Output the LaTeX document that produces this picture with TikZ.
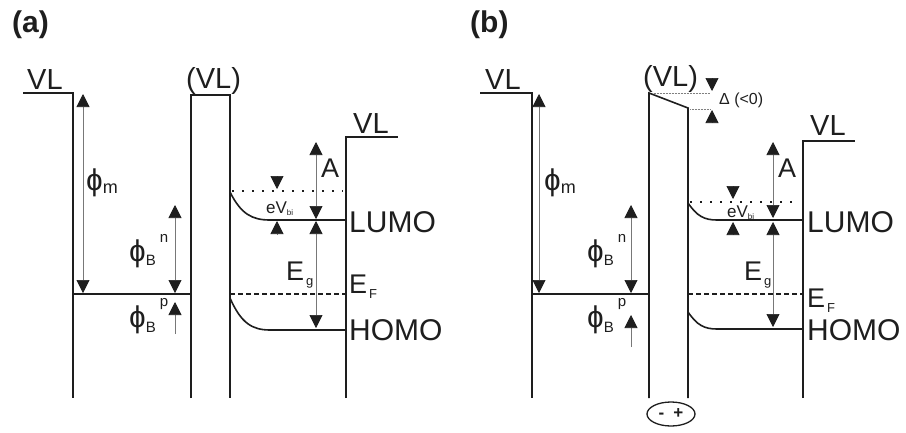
\documentclass[tikz,border=0pt]{standalone}
\usepackage{fontspec}
\setmainfont{Liberation Sans}
\usetikzlibrary{arrows.meta}
\definecolor{myline}{RGB}{30,30,30}
\definecolor{mygray}{RGB}{120,120,120}
\newcommand{\fs}[1]{\fontsize{#1}{#1}\selectfont}
\newcommand{\phis}{{\fs{30}\ooalign{o\cr\hidewidth|\hidewidth\cr}}}
\begin{document}
\begin{tikzpicture}[x=1pt,y=-1pt,>={Triangle[length=13pt,width=13pt,color=myline]},every node/.style={inner sep=0,anchor=base west,text=myline}]
\tikzstyle{band}=[line width=1.6pt,myline,line join=miter]
\tikzstyle{gap}=[mygray,line width=0.7pt]
\tikzstyle{fermi}=[line width=1.5pt,myline,dash pattern=on 4.5pt off 3.5pt]
\tikzstyle{vac}=[line width=1.6pt,myline,dash pattern=on 1.8pt off 8.2pt]
\useasboundingbox (0,0) rectangle (906,432);
% (a)
\node (lbla) at (12,32) {\fs{30}\bfseries (a)};
\draw[band] (23,93) -- (73,93) -- (73,398);
\draw[band] (73,294) -- (191,294);
\draw[band] (191,398) -- (191,95) -- (230,95) -- (230,398);
\draw[band] (346,398) -- (346,137) -- (398,137);
\draw[band] (230,192) .. controls (241,214) and (252,220) .. (270,220) -- (346,220);
\draw[band] (230,298) .. controls (241,323) and (252,330) .. (270,330) -- (346,330);
\draw[vac] (232,191) -- (343,191);
\draw[fermi] (230,294) -- (346,294);
\draw[gap,<->] (83,94) -- (83,293);
\draw[gap,<->] (175,205) -- (175,293);
\draw[gap,->] (175,334) -- (175,302);
\draw[gap,<->] (316,142) -- (316,219);
\draw[gap,<->] (316,221) -- (316,328);
\draw[gap,->] (277,176) -- (277,189);
\draw[gap,->] (277,234) -- (277,221);
\node (vla) at (27,89) {\fs{29}VL};
\node (vlia) at (186,88) {\fs{29}(VL)};
\node (vlra) at (353,133) {\fs{29}VL};
\node (phima) at (86,190) {\phis\raisebox{-3pt}{\fs{18}m}};
\node (phina) at (129,261) {\phis\raisebox{-4pt}{\fs{15}B}\hspace{4pt}\raisebox{19pt}{\fs{15}n}};
\node (phipa) at (129,327) {\phis\raisebox{-5pt}{\fs{15}B}\hspace{4pt}\raisebox{21pt}{\fs{15}p}};
\node (ea) at (321,177) {\fs{27}A};
\node (ega) at (286,280) {\fs{27}E\hspace{2pt}\raisebox{-5pt}{\fs{13}g}};
\node (efa) at (349,293) {\fs{27}E\hspace{2pt}\raisebox{-5pt}{\fs{13}F}};
\node (lumoa) at (349,232) {\fs{30}LUMO};
\node (homoa) at (349,340) {\fs{30}HOMO};
\node (evba) at (266,213) {\fs{17}eV\raisebox{-2pt}{\fs{8}bi}};
% (b)
\node (lblb) at (470,32) {\fs{30}\bfseries (b)};
\draw[band] (480,93) -- (532,93) -- (532,398);
\draw[band] (532,294) -- (649,294);
\draw[band] (649,398) -- (649,93) -- (688,108) -- (688,398);
\draw[band] (803,398) -- (803,141) -- (855,141);
\draw[band] (688,203) .. controls (697,216) and (704,220) .. (717,220) -- (803,220);
\draw[band] (688,312) .. controls (697,325) and (704,329) .. (717,329) -- (803,329);
\draw[vac] (690,202) -- (798,202);
\draw[fermi] (688,294) -- (803,294);
\draw[gray,line width=0.5pt,densely dotted] (652,93) -- (710,93);
\draw[gray,line width=0.5pt,densely dotted] (690,109) -- (710,109);
\draw[gap,<->] (539,94) -- (539,293);
\draw[gap,<->] (631,205) -- (631,293);
\draw[gap,->] (631,347) -- (631,315);
\draw[gap,<->] (773,142) -- (773,218);
\draw[gap,<->] (773,222) -- (773,327);
\draw[gap,->] (733,186) -- (733,199);
\draw[gap,->] (733,234) -- (733,222);
\draw[gap,->] (712,79) -- (712,91);
\draw[gap,->] (712,122) -- (712,110);
\draw[band,line width=1.3pt] (671,414) ellipse (24 and 12);
\node[anchor=center] (pmb) at (671,414) {\fs{17}\bfseries -\hspace{9pt}+};
\node (vlb) at (485,89) {\fs{29}VL};
\node (vlib) at (643,86) {\fs{29}(VL)};
\node (vlrb) at (810,135) {\fs{29}VL};
\node (deltab) at (719,104) {\fs{16}Δ (<0)};
\node (phimb) at (544,190) {\phis\raisebox{-3pt}{\fs{18}m}};
\node (phinb) at (587,261) {\phis\raisebox{-4pt}{\fs{15}B}\hspace{4pt}\raisebox{19pt}{\fs{15}n}};
\node (phipb) at (587,327) {\phis\raisebox{-5pt}{\fs{15}B}\hspace{4pt}\raisebox{21pt}{\fs{15}p}};
\node (eb) at (778,177) {\fs{27}A};
\node (egb) at (744,280) {\fs{27}E\hspace{2pt}\raisebox{-5pt}{\fs{13}g}};
\node (efb) at (807,307) {\fs{27}E\hspace{2pt}\raisebox{-5pt}{\fs{13}F}};
\node (lumob) at (807,232) {\fs{30}LUMO};
\node (homob) at (807,340) {\fs{30}HOMO};
\node (evbb) at (727,217) {\fs{17}eV\raisebox{-2pt}{\fs{8}bi}};
\end{tikzpicture}
\end{document}
